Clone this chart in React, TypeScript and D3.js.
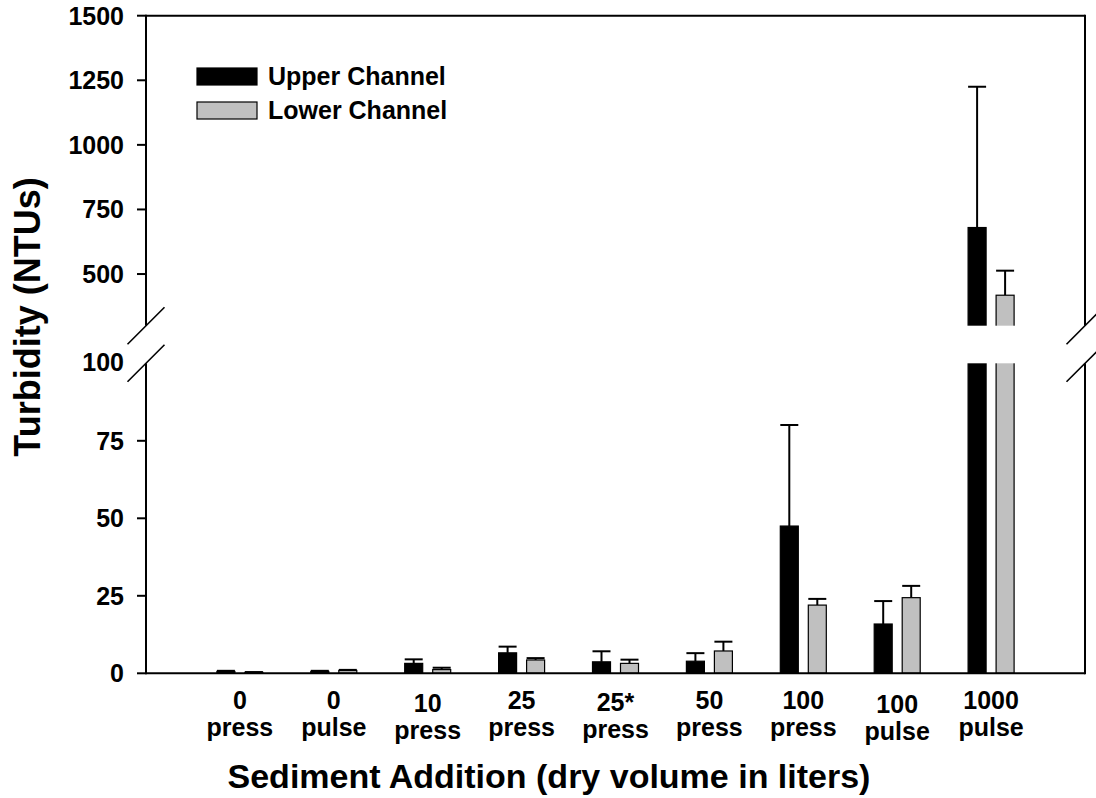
import React from "react";
import * as d3 from "d3";

// Sediment addition treatments (two-line category labels)
const treatmentAmount = ["0", "0", "10", "25", "25*", "50", "100", "100", "1000"];
const treatmentType = ["press", "pulse", "press", "press", "press", "press", "press", "pulse", "pulse"];

// Mean turbidity (NTU) and the upper error (one SE) for each channel
const upperChannel = [0.6, 0.6, 3.2, 6.6, 3.7, 3.9, 47.5, 15.9, 680];
const upperChannelErr = [0.2, 0.2, 1.3, 2.0, 3.4, 2.6, 32.6, 7.4, 545];
const lowerChannel = [0.3, 0.9, 1.2, 4.3, 3.2, 7.2, 22.0, 24.4, 418];
const lowerChannelErr = [0.1, 0.2, 0.6, 0.6, 1.2, 3.0, 2.0, 3.8, 95];

// Axis ticks for the two segments of the broken y axis
const lowerTicks = [0, 25, 50, 75, 100];
const upperTicks = [500, 750, 1000, 1250, 1500];

const W = 1096;
const H = 798;
const FONT = "'Liberation Sans', Arial, Helvetica, sans-serif";

const left = 146;
const right = 1085;
const top = 15.7;
const bottom = 673.3;
const gapTop = 325.7;
const gapBottom = 363.3;

const x = d3.scaleLinear().domain([0, 10]).range([left, right]);
const yLow = d3.scaleLinear().domain([0, 100]).range([bottom, gapBottom]);
const yHigh = d3.scaleLinear().domain([300, 1500]).range([gapTop, top]);
const y = (v: number) => (v <= 100 ? yLow(v) : yHigh(v));

const barW = 18;
const barOffset = 14;
const labelNudge: Record<number, number> = { 2: 3, 4: 2, 7: 4 };

type Series = { vals: number[]; errs: number[]; fill: string; dx: number };
const series: Series[] = [
  { vals: upperChannel, errs: upperChannelErr, fill: "#000000", dx: -barOffset },
  { vals: lowerChannel, errs: lowerChannelErr, fill: "#c0c0c0", dx: barOffset },
];

function Slash({ cx, cy }: { cx: number; cy: number }) {
  const s = 18.5;
  return <line x1={cx - s} y1={cy + s} x2={cx + s} y2={cy - s} stroke="#000" strokeWidth={1.6} />;
}

export default function App() {
  return (
    <svg width={W} height={H} style={{ position: "absolute", left: 0, top: 0 }} fontFamily={FONT}>
      <rect width={W} height={H} fill="#fff" />

      {/* bars and error bars */}
      {series.map((s, si) =>
        s.vals.map((v, i) => {
          const cx = x(i + 1) + s.dx;
          const yTop = y(v);
          const yErr = y(v + s.errs[i]);
          return (
            <g key={`${si}-${i}`}>
              <line x1={cx} x2={cx} y1={yTop} y2={yErr} stroke="#000" strokeWidth={2} />
              <line x1={cx - barW / 2} x2={cx + barW / 2} y1={yErr} y2={yErr} stroke="#000" strokeWidth={2} />
              <rect
                x={cx - barW / 2}
                y={yTop}
                width={barW}
                height={bottom - yTop}
                fill={s.fill}
                stroke="#000"
                strokeWidth={1.2}
              />
            </g>
          );
        })
      )}

      {/* axis frame */}
      <line x1={left} x2={right} y1={top} y2={top} stroke="#000" strokeWidth={2} />
      <line x1={left} x2={right} y1={bottom} y2={bottom} stroke="#000" strokeWidth={2} />
      <line x1={left} x2={left} y1={top - 1} y2={bottom + 1} stroke="#000" strokeWidth={2} />
      <line x1={right} x2={right} y1={top - 1} y2={bottom + 1} stroke="#000" strokeWidth={2} />

      {/* axis break */}
      <rect x={left - 6} y={gapTop} width={right - left + 12} height={gapBottom - gapTop} fill="#fff" />
      <Slash cx={left} cy={gapTop} />
      <Slash cx={left} cy={gapBottom} />
      <Slash cx={right} cy={gapTop} />
      <Slash cx={right} cy={gapBottom} />

      {/* y ticks */}
      {[...lowerTicks.map((t) => ({ t, py: yLow(t) })), ...upperTicks.map((t) => ({ t, py: yHigh(t) }))].map(
        ({ t, py }) => (
          <g key={`t${t}`}>
            {t !== 100 && <line x1={left - 9} x2={left} y1={py} y2={py} stroke="#000" strokeWidth={2} />}
            <text
              x={124}
              y={t === 100 ? py - 1 : py}
              dy="0.36em"
              textAnchor="end"
              fontSize={25}
              fontWeight="bold"
            >
              {t}
            </text>
          </g>
        )
      )}

      {/* category labels */}
      {treatmentAmount.map((a, i) => {
        const cx = x(i + 1);
        const n = labelNudge[i] || 0;
        return (
          <g key={`c${i}`} fontSize={25} fontWeight="bold" textAnchor="middle">
            <text x={cx} y={709 + n}>
              {a}
            </text>
            <text x={cx} y={736 + n}>
              {treatmentType[i]}
            </text>
          </g>
        );
      })}

      {/* axis titles */}
      <text x={549} y={788} textAnchor="middle" fontSize={34} fontWeight="bold">
        Sediment Addition (dry volume in liters)
      </text>
      <text
        transform={`translate(40,317) rotate(-90)`}
        textAnchor="middle"
        fontSize={36}
        fontWeight="bold"
      >
        Turbidity (NTUs)
      </text>

      {/* legend */}
      <rect x={197} y={68} width={60} height={17} fill="#000" stroke="#000" strokeWidth={1.2} />
      <text x={268} y={85} fontSize={25} fontWeight="bold">
        Upper Channel
      </text>
      <rect x={197} y={102} width={60} height={17} fill="#c0c0c0" stroke="#000" strokeWidth={1.2} />
      <text x={268} y={119} fontSize={25} fontWeight="bold">
        Lower Channel
      </text>
    </svg>
  );
}
